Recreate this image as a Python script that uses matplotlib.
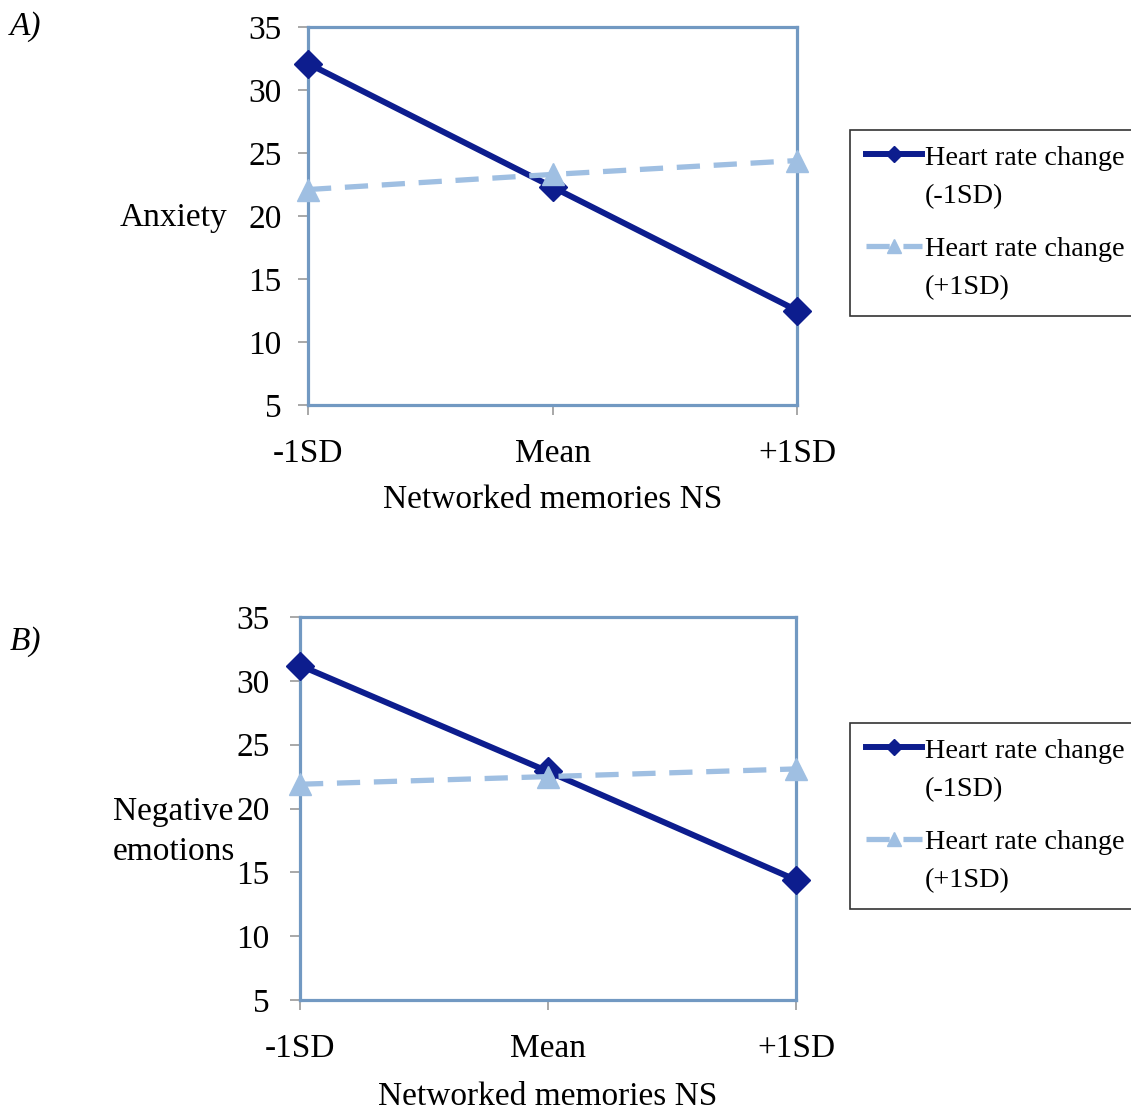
import matplotlib
matplotlib.use("Agg")
import matplotlib.pyplot as plt
from matplotlib.legend_handler import HandlerLine2D

plt.rcParams['font.family'] = ['Liberation Serif', 'DejaVu Serif']

categories = ['-1SD', 'Mean', '+1SD']
series_names = ['Heart rate change\n(-1SD)', 'Heart rate change\n(+1SD)']

anxiety_low = [32.1, 22.3, 12.5]
anxiety_high = [22.1, 23.3, 24.4]
negemo_low = [31.2, 22.9, 14.4]
negemo_high = [21.9, 22.5, 23.1]

yticks = [5, 10, 15, 20, 25, 30, 35]

DARK = '#0d1d8e'
LIGHT = '#9fbfe2'
SPINE = '#7299c2'
FS = 24
LFS = 20.3


class TopHandler(HandlerLine2D):
    """Place the legend handle level with the first text line."""
    def __init__(self, shift=0.62, **kw):
        super().__init__(**kw)
        self.shift = shift

    def create_artists(self, legend, orig_handle, xdescent, ydescent, width, height,
                       fontsize, trans):
        return super().create_artists(legend, orig_handle, xdescent,
                                      ydescent - 2 * self.shift * fontsize,
                                      width, height, fontsize, trans)


fig = plt.figure(figsize=(11.31, 11.12), dpi=100)

panels = [
    dict(rect=[308/1131, 1-405/1112, 489/1131, 378/1112], low=anxiety_low, high=anxiety_high,
         ylabel='Anxiety', ylab_xy=(-0.164, 0.495), ypad=12, tag='A)', tag_y=1-27/1112,
         leg_y=1-130/1112, xlpad=11),
    dict(rect=[300/1131, 1-1000/1112, 496/1131, 383/1112], low=negemo_low, high=negemo_high,
         ylabel='Negative\nemotions', ylab_xy=(-0.131, 0.44), ypad=15, tag='B)', tag_y=1-642/1112,
         leg_y=1-723/1112, xlpad=13),
]

for p in panels:
    ax = fig.add_axes(p['rect'])
    x = list(range(len(categories)))
    ax.plot(x, p['low'], color=DARK, lw=4.3, marker='D', markersize=14,
            clip_on=False, zorder=3, label=series_names[0])
    ax.plot(x, p['high'], color=LIGHT, lw=3.8, marker='^', markersize=16,
            dashes=(4.4, 2.6), clip_on=False, zorder=4, label=series_names[1])
    ax.set_xlim(0, 2)
    ax.set_ylim(5, 35)
    ax.set_xticks(x)
    ax.set_xticklabels(categories, fontsize=FS)
    ax.set_yticks(yticks)
    ax.set_yticklabels([str(t) for t in yticks], fontsize=FS)
    for s in ax.spines.values():
        s.set_color(SPINE)
        s.set_linewidth(2.3)
    ax.tick_params(axis='y', direction='out', length=7, width=1.2, color='#9a9a9a', pad=p['ypad'])
    ax.tick_params(axis='x', direction='out', length=7, width=1.2, color='#9a9a9a', pad=17)
    ax.set_xlabel('Networked memories NS', fontsize=FS, labelpad=p['xlpad'])
    ax.set_ylabel(p['ylabel'], fontsize=FS, rotation=0, ha='right', va='center',
                  multialignment='left', linespacing=1.4)
    ax.yaxis.set_label_coords(*p['ylab_xy'])
    fig.text(10/1131, p['tag_y'], p['tag'], fontsize=FS, style='italic', ha='left', va='center')
    handles, labels = ax.get_legend_handles_labels()
    leg = fig.legend(handles, labels, loc='upper left', bbox_to_anchor=(850/1131, p['leg_y']),
                     bbox_transform=fig.transFigure, fontsize=LFS, frameon=True, fancybox=False,
                     edgecolor='black', borderaxespad=0, handlelength=2.0, handletextpad=0.1,
                     labelspacing=1.0, borderpad=0.55, markerscale=0.6,
                     handler_map={h: TopHandler(shift=0.8) for h in handles})
    leg.get_frame().set_linewidth(1.2)
    for t in leg.get_texts():
        t.set_linespacing(1.7)

fig.savefig('out.png', dpi=100)
